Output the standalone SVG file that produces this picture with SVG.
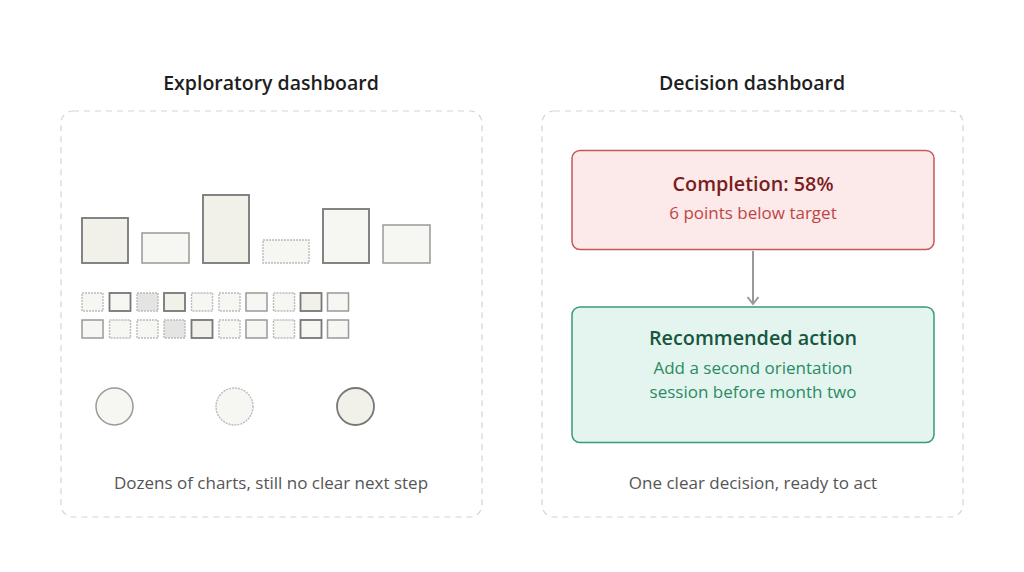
<svg xmlns="http://www.w3.org/2000/svg" width="1024" height="572" viewBox="0 0 1024 572">
<style>
text{font-family:"Open Sans","Noto Sans","Liberation Sans",sans-serif;text-anchor:middle}
.title{font-size:19.5px;font-weight:600;fill:#1e1e1e}
.panel{fill:#fff;stroke:#d4d4d4;stroke-width:1.2;stroke-dasharray:6 5}
.cap{font-size:17px;fill:#555}
.dk{stroke:#777;stroke-width:1.8}
.md{stroke:#999;stroke-width:1.5}
.lt{stroke:#bbb;stroke-width:1.4;stroke-dasharray:2 1}
.f1{fill:#f1f1ea}
.f2{fill:#f6f6f2}
.f3{fill:#e4e4e2}
.h{font-size:19.8px;font-weight:600}
.s{font-size:17px}
</style>
<defs>
<marker id="arr" markerWidth="14" markerHeight="14" refX="10" refY="7" orient="auto" markerUnits="userSpaceOnUse">
<path d="M3,1.5 L10,7 L3,12.5" fill="none" stroke="#999" stroke-width="2"/>
</marker>
</defs>
<rect width="1024" height="572" fill="#fff"/>
<g id="left-panel">
<text class="title" x="271" y="90">Exploratory dashboard</text>
<rect class="panel" x="61" y="111" width="421" height="406" rx="12"/>
<g id="bars">
<rect class="dk f1" x="82" y="218" width="46" height="45"/>
<rect class="md f2" x="142" y="233" width="47" height="30"/>
<rect class="dk f1" x="203" y="195" width="46" height="68"/>
<rect class="lt f2" x="263" y="240" width="46" height="23"/>
<rect class="dk f2" x="323" y="209" width="46" height="54"/>
<rect class="md f2" x="383" y="225" width="47" height="38"/>
</g>
<g id="grid">
<rect class="lt f2" x="82" y="293" width="21" height="18"/>
<rect class="dk f2" x="109.5" y="293" width="21" height="18"/>
<rect class="lt f3" x="137" y="293" width="21" height="18"/>
<rect class="dk f1" x="164" y="293" width="21" height="18"/>
<rect class="lt f2" x="191.5" y="293" width="21" height="18"/>
<rect class="lt f2" x="219" y="293" width="21" height="18"/>
<rect class="md f2" x="246" y="293" width="21" height="18"/>
<rect class="lt f2" x="273.5" y="293" width="21" height="18"/>
<rect class="dk f1" x="300.5" y="293" width="21" height="18"/>
<rect class="md f2" x="327.5" y="293" width="21" height="18"/>
<rect class="md f2" x="82" y="320" width="21" height="18"/>
<rect class="lt f2" x="109.5" y="320" width="21" height="18"/>
<rect class="lt f2" x="137" y="320" width="21" height="18"/>
<rect class="lt f3" x="164" y="320" width="21" height="18"/>
<rect class="dk f1" x="191.5" y="320" width="21" height="18"/>
<rect class="lt f2" x="219" y="320" width="21" height="18"/>
<rect class="md f2" x="246" y="320" width="21" height="18"/>
<rect class="lt f2" x="273.5" y="320" width="21" height="18"/>
<rect class="dk f2" x="300.5" y="320" width="21" height="18"/>
<rect class="md f2" x="327.5" y="320" width="21" height="18"/>
</g>
<g id="circles">
<circle class="md f2" cx="114.5" cy="406.5" r="18.5"/>
<circle class="lt f2" cx="234.5" cy="406.5" r="18.5"/>
<circle class="dk f1" cx="355.5" cy="406.5" r="18.5"/>
</g>
<text class="cap" x="271" y="489">Dozens of charts, still no clear next step</text>
</g>
<g id="right-panel">
<text class="title" x="752" y="90">Decision dashboard</text>
<rect class="panel" x="542" y="111" width="421" height="406" rx="12"/>
<text class="cap" x="753" y="489">One clear decision, ready to act</text>
</g>
<g id="connectors">
<line x1="753" y1="251" x2="753" y2="304" stroke="#999" stroke-width="2" marker-end="url(#arr)"/>
</g>
<g id="node-completion">
<rect x="572" y="150.5" width="362" height="99" rx="8" fill="#fce9e9" stroke="#c65858" stroke-width="1.5"/>
<text class="h" x="753" y="191" fill="#7a1d1d">Completion: 58%</text>
<text class="s" x="753" y="219" fill="#c04545">6 points below target</text>
</g>
<g id="node-action">
<rect x="572" y="307" width="362" height="135.5" rx="8" fill="#e3f5ee" stroke="#3a9a76" stroke-width="1.5"/>
<text class="h" x="753" y="345" fill="#17573f">Recommended action</text>
<text class="s" x="753" y="374" fill="#2b8a66">Add a second orientation</text>
<text class="s" x="753" y="398" fill="#2b8a66">session before month two</text>
</g>
</svg>
